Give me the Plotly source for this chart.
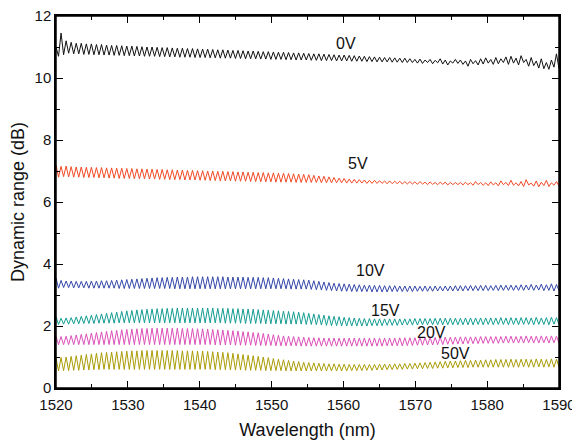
import numpy as np
import plotly.graph_objects as go

# Peak / trough values per fringe (100 fringes, 1520-1590 nm), rows of 10 fringes (7 nm each)
peaks_0V = [11.00,11.45,11.20,11.15,11.12,11.12,11.10,11.10,11.08,11.08,
            11.06,11.05,11.05,11.04,11.03,11.03,11.02,11.01,11.00,11.00,
            10.99,10.98,10.98,10.97,10.96,10.96,10.95,10.95,10.94,10.93,
            10.93,10.92,10.91,10.91,10.90,10.89,10.89,10.88,10.87,10.87,
            10.86,10.85,10.85,10.84,10.83,10.83,10.82,10.81,10.81,10.80,
            10.79,10.78,10.78,10.77,10.76,10.75,10.74,10.74,10.73,10.72,
            10.71,10.70,10.69,10.68,10.67,10.66,10.66,10.65,10.64,10.64,
            10.62,10.60,10.61,10.58,10.60,10.57,10.62,10.58,10.55,10.60,
            10.58,10.55,10.60,10.56,10.62,10.65,10.60,10.66,10.62,10.68,
            10.70,10.64,10.72,10.60,10.66,10.55,10.62,10.50,10.58,10.78]
troughs_0V = [10.70,10.75,10.80,10.78,10.78,10.76,10.76,10.75,10.75,10.74,
              10.74,10.73,10.73,10.72,10.72,10.71,10.71,10.70,10.70,10.70,
              10.69,10.69,10.68,10.68,10.67,10.67,10.67,10.66,10.66,10.66,
              10.65,10.65,10.64,10.64,10.64,10.63,10.63,10.62,10.62,10.62,
              10.61,10.61,10.60,10.60,10.60,10.59,10.59,10.58,10.58,10.58,
              10.57,10.57,10.56,10.56,10.56,10.55,10.55,10.55,10.54,10.54,
              10.54,10.53,10.53,10.52,10.52,10.52,10.51,10.51,10.50,10.50,
              10.50,10.48,10.47,10.50,10.46,10.49,10.45,10.42,10.48,10.47,
              10.44,10.38,10.46,10.42,10.45,10.48,10.44,10.46,10.50,10.44,
              10.48,10.42,10.50,10.38,10.40,10.32,10.30,10.28,10.35,10.30]

peaks_5V = [7.20,7.15,7.16,7.14,7.13,7.13,7.12,7.12,7.11,7.11,
            7.10,7.10,7.09,7.09,7.08,7.08,7.07,7.07,7.06,7.06,
            7.05,7.05,7.04,7.04,7.03,7.03,7.02,7.02,7.01,7.01,
            7.00,7.00,6.99,6.99,6.98,6.98,6.97,6.97,6.96,6.96,
            6.95,6.95,6.94,6.94,6.93,6.93,6.92,6.91,6.90,6.89,
            6.88,6.86,6.84,6.83,6.81,6.79,6.77,6.76,6.74,6.73,
            6.72,6.71,6.70,6.70,6.69,6.68,6.68,6.67,6.67,6.66,
            6.66,6.65,6.66,6.64,6.65,6.63,6.64,6.64,6.63,6.63,
            6.63,6.64,6.62,6.66,6.63,6.62,6.65,6.62,6.68,6.63,
            6.70,6.62,6.66,6.72,6.61,6.68,6.64,6.70,6.62,6.66]
troughs_5V = [6.80,6.82,6.81,6.80,6.80,6.79,6.79,6.79,6.78,6.78,
              6.77,6.77,6.76,6.76,6.76,6.75,6.75,6.75,6.74,6.74,
              6.73,6.73,6.72,6.72,6.72,6.71,6.71,6.71,6.70,6.70,
              6.69,6.69,6.68,6.68,6.68,6.67,6.67,6.67,6.66,6.66,
              6.65,6.65,6.65,6.64,6.64,6.64,6.64,6.63,6.63,6.63,
              6.63,6.63,6.62,6.62,6.62,6.62,6.62,6.61,6.61,6.61,
              6.61,6.60,6.60,6.60,6.60,6.59,6.59,6.59,6.58,6.58,
              6.58,6.57,6.58,6.56,6.57,6.56,6.57,6.55,6.56,6.56,
              6.55,6.56,6.54,6.56,6.54,6.53,6.55,6.52,6.56,6.53,
              6.54,6.52,6.50,6.55,6.51,6.49,6.53,6.50,6.54,6.52]

peaks_10V = [3.55,3.47,3.45,3.45,3.44,3.44,3.44,3.45,3.45,3.46,
             3.46,3.47,3.48,3.49,3.50,3.51,3.52,3.53,3.54,3.55,
             3.56,3.56,3.57,3.57,3.58,3.58,3.58,3.59,3.59,3.59,
             3.59,3.59,3.59,3.59,3.58,3.58,3.58,3.58,3.57,3.57,
             3.57,3.56,3.56,3.55,3.54,3.53,3.52,3.51,3.50,3.49,
             3.48,3.46,3.44,3.42,3.40,3.38,3.37,3.36,3.35,3.34,
             3.33,3.32,3.32,3.31,3.31,3.30,3.30,3.30,3.29,3.29,
             3.29,3.29,3.28,3.29,3.28,3.29,3.28,3.29,3.29,3.30,
             3.30,3.30,3.31,3.30,3.31,3.31,3.30,3.31,3.32,3.31,
             3.32,3.31,3.33,3.32,3.34,3.32,3.35,3.33,3.36,3.34]
troughs_10V = [3.22,3.24,3.24,3.23,3.23,3.23,3.22,3.22,3.22,3.22,
               3.22,3.22,3.21,3.21,3.21,3.21,3.21,3.21,3.21,3.21,
               3.21,3.21,3.21,3.20,3.20,3.20,3.20,3.20,3.20,3.20,
               3.20,3.20,3.20,3.20,3.20,3.20,3.20,3.20,3.20,3.20,
               3.20,3.20,3.20,3.20,3.20,3.20,3.19,3.19,3.19,3.19,
               3.18,3.17,3.16,3.15,3.14,3.13,3.12,3.12,3.11,3.11,
               3.11,3.11,3.10,3.10,3.10,3.10,3.11,3.11,3.11,3.11,
               3.11,3.12,3.12,3.12,3.12,3.13,3.13,3.13,3.13,3.13,
               3.13,3.14,3.14,3.14,3.14,3.14,3.15,3.14,3.15,3.15,
               3.15,3.15,3.15,3.16,3.15,3.16,3.14,3.15,3.13,3.14]

peaks_15V = [2.30,2.25,2.26,2.27,2.29,2.31,2.33,2.35,2.37,2.39,
             2.41,2.43,2.45,2.47,2.49,2.50,2.52,2.53,2.54,2.55,
             2.56,2.56,2.57,2.57,2.58,2.58,2.58,2.58,2.58,2.58,
             2.58,2.58,2.57,2.57,2.57,2.56,2.56,2.55,2.55,2.54,
             2.53,2.52,2.51,2.50,2.49,2.48,2.47,2.46,2.45,2.43,
             2.41,2.39,2.37,2.35,2.33,2.31,2.30,2.28,2.27,2.26,
             2.25,2.24,2.24,2.23,2.23,2.23,2.23,2.23,2.23,2.23,
             2.23,2.24,2.24,2.24,2.24,2.25,2.25,2.25,2.25,2.25,
             2.25,2.26,2.26,2.26,2.26,2.26,2.26,2.26,2.27,2.26,
             2.27,2.26,2.27,2.27,2.26,2.28,2.26,2.27,2.28,2.27]
troughs_15V = [2.05,2.06,2.06,2.07,2.07,2.08,2.08,2.08,2.09,2.09,
               2.09,2.09,2.10,2.10,2.10,2.10,2.10,2.10,2.10,2.10,
               2.10,2.10,2.10,2.10,2.10,2.10,2.10,2.10,2.10,2.10,
               2.10,2.10,2.10,2.09,2.09,2.09,2.09,2.08,2.08,2.08,
               2.08,2.07,2.07,2.07,2.07,2.06,2.06,2.06,2.06,2.05,
               2.05,2.04,2.03,2.02,2.01,2.01,2.00,2.00,2.00,2.00,
               2.00,2.00,2.01,2.01,2.01,2.02,2.02,2.02,2.03,2.03,
               2.03,2.03,2.04,2.04,2.04,2.04,2.04,2.04,2.04,2.04,
               2.04,2.04,2.04,2.05,2.04,2.05,2.04,2.05,2.05,2.04,
               2.05,2.04,2.05,2.05,2.04,2.05,2.05,2.04,2.06,2.05]

peaks_20V = [1.67,1.66,1.67,1.69,1.71,1.73,1.75,1.77,1.79,1.81,
             1.83,1.85,1.86,1.88,1.89,1.90,1.91,1.92,1.92,1.93,
             1.93,1.93,1.93,1.93,1.93,1.92,1.92,1.92,1.91,1.91,
             1.90,1.89,1.88,1.87,1.86,1.85,1.84,1.82,1.81,1.79,
             1.78,1.76,1.74,1.72,1.70,1.68,1.67,1.66,1.65,1.64,
             1.63,1.62,1.62,1.61,1.61,1.61,1.61,1.61,1.61,1.61,
             1.61,1.61,1.61,1.61,1.61,1.61,1.61,1.61,1.62,1.62,
             1.62,1.62,1.63,1.63,1.63,1.63,1.64,1.64,1.64,1.64,
             1.65,1.65,1.65,1.65,1.66,1.66,1.66,1.66,1.66,1.67,
             1.67,1.66,1.67,1.68,1.67,1.67,1.68,1.67,1.68,1.67]
troughs_20V = [1.40,1.40,1.40,1.40,1.40,1.40,1.40,1.40,1.40,1.40,
               1.40,1.40,1.40,1.40,1.40,1.40,1.40,1.40,1.40,1.40,
               1.40,1.40,1.40,1.40,1.40,1.40,1.40,1.40,1.40,1.40,
               1.40,1.39,1.39,1.39,1.39,1.38,1.38,1.38,1.38,1.37,
               1.37,1.37,1.37,1.36,1.36,1.36,1.36,1.36,1.35,1.35,
               1.35,1.35,1.35,1.35,1.35,1.35,1.35,1.35,1.35,1.35,
               1.35,1.35,1.35,1.35,1.35,1.36,1.36,1.36,1.36,1.37,
               1.37,1.38,1.38,1.39,1.39,1.40,1.40,1.41,1.41,1.42,
               1.42,1.43,1.43,1.43,1.44,1.44,1.44,1.44,1.45,1.45,
               1.45,1.45,1.45,1.46,1.45,1.45,1.46,1.45,1.46,1.45]

peaks_50V = [0.97,0.98,1.00,1.02,1.04,1.06,1.08,1.10,1.12,1.14,
             1.15,1.16,1.17,1.18,1.19,1.20,1.20,1.21,1.21,1.21,
             1.21,1.21,1.21,1.21,1.21,1.20,1.20,1.20,1.19,1.19,
             1.18,1.17,1.16,1.15,1.14,1.12,1.10,1.08,1.06,1.04,
             1.02,1.00,0.98,0.95,0.93,0.91,0.89,0.87,0.85,0.83,
             0.82,0.81,0.80,0.79,0.78,0.78,0.77,0.77,0.76,0.76,
             0.76,0.76,0.76,0.76,0.77,0.77,0.77,0.78,0.78,0.79,
             0.79,0.80,0.81,0.82,0.83,0.84,0.85,0.86,0.87,0.87,
             0.88,0.89,0.89,0.90,0.90,0.91,0.91,0.92,0.92,0.92,
             0.93,0.92,0.93,0.93,0.92,0.94,0.93,0.92,0.94,0.93]
troughs_50V = [0.55,0.56,0.56,0.57,0.57,0.58,0.58,0.59,0.59,0.60,
               0.60,0.60,0.60,0.60,0.60,0.60,0.60,0.60,0.60,0.60,
               0.60,0.60,0.60,0.60,0.60,0.60,0.60,0.60,0.60,0.60,
               0.60,0.59,0.59,0.59,0.58,0.58,0.58,0.57,0.57,0.57,
               0.57,0.56,0.56,0.56,0.56,0.55,0.55,0.55,0.55,0.55,
               0.55,0.55,0.55,0.55,0.55,0.55,0.55,0.55,0.56,0.56,
               0.56,0.57,0.57,0.58,0.58,0.59,0.59,0.60,0.60,0.61,
               0.61,0.62,0.62,0.63,0.63,0.64,0.64,0.65,0.65,0.66,
               0.66,0.66,0.67,0.67,0.67,0.67,0.67,0.67,0.67,0.67,
               0.67,0.67,0.68,0.67,0.67,0.68,0.67,0.68,0.67,0.68]

series_names = ["0V", "5V", "10V", "15V", "20V", "50V"]
series_colors = ["#111111", "#f04a25", "#3347a8", "#139c92", "#db4fb8", "#a99c06"]
label_x = [1560.4, 1562.0, 1563.8, 1565.8, 1572.3, 1575.6]
label_y = [11.1, 7.25, 3.8, 2.5, 1.8, 1.12]

peaks_all = [peaks_0V, peaks_5V, peaks_10V, peaks_15V, peaks_20V, peaks_50V]
troughs_all = [troughs_0V, troughs_5V, troughs_10V, troughs_15V, troughs_20V, troughs_50V]

n_pts = 2 * len(peaks_0V)
wavelength = np.linspace(1520, 1590, n_pts)

FONT = "Liberation Sans, Arial, sans-serif"

fig = go.Figure()
for name, col, pk, tr in zip(series_names, series_colors, peaks_all, troughs_all):
    vals = np.empty(n_pts)
    vals[0::2] = pk
    vals[1::2] = tr
    fig.add_trace(go.Scatter(x=wavelength, y=vals, mode="lines", name=name,
                             line=dict(color=col, width=1), showlegend=False))

for name, lx, ly in zip(series_names, label_x, label_y):
    fig.add_annotation(x=lx, y=ly, text=name, showarrow=False,
                       font=dict(size=16, color="#111111", family=FONT))

# plot frame
fig.add_shape(type="rect", xref="paper", yref="paper", x0=0, x1=1, y0=0, y1=1,
              line=dict(color="black", width=1.5), layer="above")

axis_common = dict(showline=True, linecolor="black", linewidth=1.5, mirror="ticks",
                   ticks="inside", ticklen=7, tickwidth=1.2, tickcolor="black",
                   showgrid=False, zeroline=False, automargin=False,
                   ticklabeloverflow="allow",
                   tickfont=dict(size=15, color="#111111", family=FONT))

fig.update_xaxes(range=[1520, 1590], dtick=10, tick0=1520, ticklabelstandoff=2,
                 minor=dict(ticks="inside", ticklen=4, dtick=5, tickcolor="black"),
                 title=dict(text="Wavelength (nm)", standoff=12,
                            font=dict(size=18, color="#111111", family=FONT)),
                 **axis_common)
fig.update_yaxes(range=[0, 12], dtick=2, tick0=0,
                 minor=dict(ticks="inside", ticklen=4, dtick=1, tickcolor="black"),
                 title=dict(text="Dynamic range (dB)", standoff=6,
                            font=dict(size=18, color="#111111", family=FONT)),
                 **axis_common)

# the page body adds an 8px margin, so the figure is drawn 8px smaller
fig.update_layout(width=572, height=433, margin=dict(l=48, r=21, t=8, b=53),
                  plot_bgcolor="white", paper_bgcolor="white")

fig.write_html("out.html")
